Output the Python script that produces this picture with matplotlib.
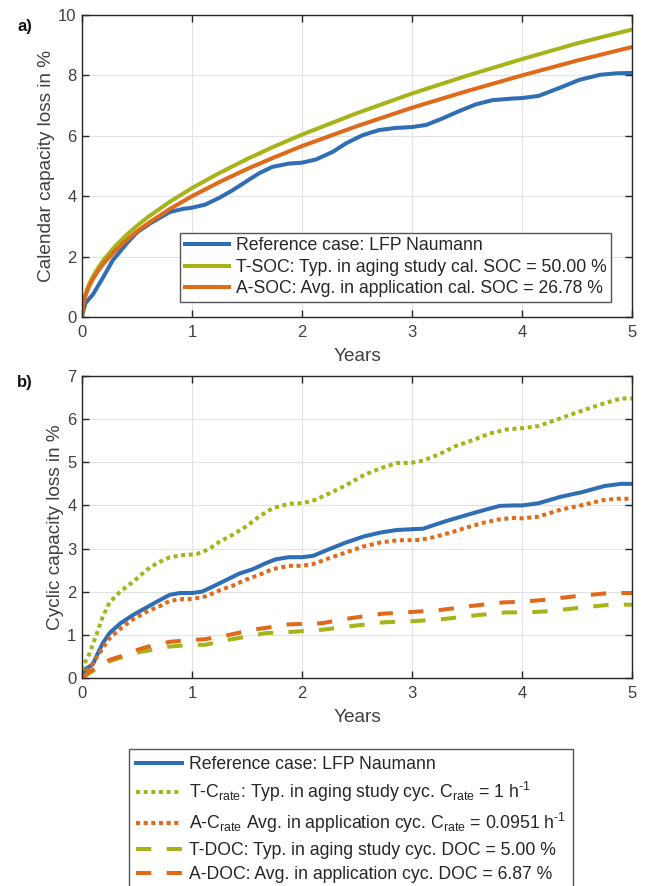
import matplotlib
matplotlib.use("Agg")
import matplotlib.pyplot as plt

# ------------------------------------------------------------
# data (years, capacity loss in %)
# ------------------------------------------------------------
# a) calendar aging
cal_ref_x = [0, 0.03, 0.1, 0.19, 0.28, 0.41, 0.5, 0.62, 0.8, 0.92, 1.0, 1.12, 1.25, 1.37,
             1.49, 1.61, 1.73, 1.88, 2.0, 2.13, 2.28, 2.4, 2.55, 2.7, 2.85, 3.0, 3.13,
             3.28, 3.43, 3.58, 3.73, 3.9, 4.0, 4.15, 4.33, 4.52, 4.71, 4.86, 5.0]
cal_ref_y = [0, 0.45, 0.75, 1.3, 1.88, 2.45, 2.8, 3.1, 3.48, 3.58, 3.62, 3.72, 3.95, 4.2,
             4.48, 4.76, 4.97, 5.08, 5.11, 5.22, 5.47, 5.75, 6.02, 6.19, 6.26, 6.29, 6.36,
             6.58, 6.82, 7.04, 7.18, 7.23, 7.25, 7.32, 7.57, 7.85, 8.02, 8.07, 8.08]

cal_soc_x = [0, 0.01, 0.03, 0.06, 0.1, 0.15, 0.2, 0.3, 0.4, 0.5, 0.6, 0.8, 1.0, 1.25,
             1.5, 1.75, 2.0, 2.5, 3.0, 3.5, 4.0, 4.5, 5.0]
cal_tsoc_y = [0, 0.43, 0.74, 1.05, 1.35, 1.65, 1.91, 2.34, 2.70, 3.02, 3.31, 3.82, 4.27,
              4.77, 5.23, 5.65, 6.04, 6.75, 7.40, 7.99, 8.54, 9.06, 9.52]
cal_asoc_y = [0, 0.40, 0.69, 0.98, 1.26, 1.55, 1.79, 2.19, 2.53, 2.83, 3.10, 3.58, 4.00,
              4.47, 4.90, 5.29, 5.66, 6.32, 6.93, 7.48, 8.00, 8.49, 8.94]

# b) cyclic aging
cyc_ref_x = [0, 0.04, 0.1, 0.13, 0.19, 0.25, 0.35, 0.47, 0.59, 0.71, 0.8, 0.89, 1.0, 1.09,
             1.19, 1.31, 1.43, 1.55, 1.67, 1.76, 1.88, 2.0, 2.1, 2.25, 2.4, 2.56, 2.71,
             2.86, 3.01, 3.1, 3.3, 3.5, 3.68, 3.8, 3.93, 4.0, 4.15, 4.35, 4.55, 4.75, 4.9, 5.0]
cyc_ref_y = [0.05, 0.22, 0.32, 0.5, 0.81, 1.04, 1.27, 1.47, 1.64, 1.81, 1.93, 1.97, 1.97, 2.0,
             2.12, 2.27, 2.42, 2.52, 2.66, 2.75, 2.8, 2.8, 2.83, 2.99, 3.14, 3.28, 3.37,
             3.43, 3.45, 3.46, 3.63, 3.78, 3.91, 3.99, 4.0, 4.0, 4.05, 4.2, 4.31, 4.45, 4.5, 4.5]

cyc_tcr_x = [0, 0.01, 0.07, 0.13, 0.19, 0.25, 0.35, 0.47, 0.59, 0.68, 0.8, 0.92, 1.04, 1.15,
             1.25, 1.37, 1.49, 1.61, 1.73, 1.88, 2.0, 2.1, 2.25, 2.4, 2.56, 2.71, 2.86,
             3.0, 3.1, 3.25, 3.4, 3.56, 3.71, 3.86, 4.0, 4.15, 4.35, 4.55, 4.75, 4.9, 5.0]
cyc_tcr_y = [0, 0.27, 0.58, 1.0, 1.43, 1.75, 2.01, 2.24, 2.51, 2.66, 2.8, 2.85, 2.87, 2.98,
             3.16, 3.32, 3.51, 3.74, 3.93, 4.04, 4.05, 4.11, 4.28, 4.47, 4.7, 4.86, 4.98,
             4.99, 5.04, 5.19, 5.38, 5.52, 5.67, 5.76, 5.79, 5.84, 6.02, 6.2, 6.37, 6.48, 6.48]

cyc_acr_x = [0, 0.1, 0.19, 0.25, 0.35, 0.47, 0.59, 0.71, 0.8, 0.92, 1.0, 1.12, 1.25, 1.37,
             1.49, 1.61, 1.73, 1.88, 2.0, 2.1, 2.25, 2.4, 2.56, 2.71, 2.86, 3.07, 3.19,
             3.35, 3.5, 3.65, 3.8, 3.93, 4.0, 4.15, 4.35, 4.55, 4.75, 4.9, 5.0]
cyc_acr_y = [0, 0.35, 0.7, 0.92, 1.15, 1.37, 1.54, 1.67, 1.79, 1.83, 1.83, 1.89, 2.03, 2.14,
             2.28, 2.39, 2.52, 2.6, 2.6, 2.64, 2.78, 2.91, 3.05, 3.14, 3.19, 3.2, 3.26,
             3.37, 3.49, 3.6, 3.68, 3.71, 3.7, 3.74, 3.9, 4.01, 4.13, 4.16, 4.15]

cyc_adoc_x = [0, 0.07, 0.25, 0.35, 0.5, 0.59, 0.8, 1.0, 1.12, 1.34, 1.55, 1.67, 1.85, 2.18,
              2.45, 2.73, 3.0, 3.27, 3.54, 3.82, 4.0, 4.2, 4.5, 4.8, 5.0]
cyc_adoc_y = [0, 0.15, 0.42, 0.5, 0.65, 0.72, 0.84, 0.88, 0.9, 1.0, 1.12, 1.16, 1.24, 1.27,
              1.39, 1.49, 1.53, 1.58, 1.67, 1.75, 1.77, 1.81, 1.9, 1.97, 1.97]

cyc_tdoc_x = [0, 0.07, 0.25, 0.5, 0.59, 0.8, 1.0, 1.12, 1.34, 1.55, 1.67, 1.85, 2.19, 2.47,
              2.74, 3.03, 3.3, 3.57, 3.85, 4.0, 4.2, 4.5, 4.8, 5.0]
cyc_tdoc_y = [0, 0.12, 0.39, 0.59, 0.63, 0.73, 0.77, 0.77, 0.89, 0.98, 1.04, 1.06, 1.12, 1.21,
              1.29, 1.32, 1.37, 1.45, 1.52, 1.52, 1.54, 1.62, 1.7, 1.7]

cal_labels = ["Reference case: LFP Naumann",
              "T-SOC: Typ. in aging study cal. SOC = 50.00 %",
              "A-SOC: Avg. in application cal. SOC = 26.78 %"]
cyc_labels = ["Reference case: LFP Naumann",
              r"T-C$_{\mathrm{rate}}$: Typ. in aging study cyc. C$_{\mathrm{rate}}$ = 1 h$^{\text{-1}}$",
              r"A-C$_{\mathrm{rate}}$ Avg. in application cyc. C$_{\mathrm{rate}}$ = 0.0951 h$^{\text{-1}}$",
              "T-DOC: Typ. in aging study cyc. DOC = 5.00 %",
              "A-DOC: Avg. in application cyc. DOC = 6.87 %"]

# ------------------------------------------------------------
# style
# ------------------------------------------------------------
plt.rcParams['font.family'] = ['Liberation Sans', 'DejaVu Sans']
plt.rcParams['mathtext.fontset'] = 'custom'
plt.rcParams['mathtext.rm'] = 'Liberation Sans'
plt.rcParams['mathtext.it'] = 'Liberation Sans:italic'
plt.rcParams['mathtext.bf'] = 'Liberation Sans:bold'

BLUE, GREEN, ORANGE = '#2F6EB5', '#A6B41A', '#E0691A'
TXT = '#404040'
LW = 2.9
DOT = (0, (1.0, 0.9))
DASH = (0, (3.8, 3.8))


def style_axes(ax, ymax, ylabel):
    ax.set_xlim(0, 5)
    ax.set_ylim(0, ymax)
    ax.set_xticks(range(6))
    ax.set_yticks(range(0, ymax + 1, 2 if ymax == 10 else 1))
    ax.grid(True, color='#e2e2e2', linewidth=0.8)
    ax.set_axisbelow(True)
    ax.tick_params(direction='in', top=True, right=True, length=5, width=1,
                   colors='#262626', labelcolor=TXT, labelsize=12, pad=4)
    ax.tick_params(axis='x', pad=5.5)
    for s in ax.spines.values():
        s.set_color('#262626')
        s.set_linewidth(1)
    ax.set_xlabel('Years', fontsize=13.7, color=TXT, labelpad=6)
    ax.set_ylabel(ylabel, fontsize=13.7, color=TXT, labelpad=2)


fig = plt.figure(figsize=(6.48, 8.86), dpi=100)
ax1 = fig.add_axes([82 / 648, 1 - 317 / 886, 550 / 648, 302 / 886])
ax2 = fig.add_axes([82 / 648, 1 - 678 / 886, 550 / 648, 302 / 886])

# a) calendar
ax1.plot(cal_ref_x, cal_ref_y, color=BLUE, lw=LW, label=cal_labels[0])
ax1.plot(cal_soc_x, cal_tsoc_y, color=GREEN, lw=LW, label=cal_labels[1])
ax1.plot(cal_soc_x, cal_asoc_y, color=ORANGE, lw=LW, label=cal_labels[2])
style_axes(ax1, 10, 'Calendar capacity loss in %')
leg1 = ax1.legend(loc='lower right', bbox_to_anchor=(0.962, 0.05), fontsize=12.7,
                  frameon=True, fancybox=False, framealpha=1, edgecolor='#555555',
                  handlelength=2.5, handletextpad=0.4, borderpad=0.25, labelspacing=0.27,
                  borderaxespad=0)
leg1.get_frame().set_linewidth(1)
for t in leg1.get_texts():
    t.set_color('#262626')

# b) cyclic
ax2.plot(cyc_ref_x, cyc_ref_y, color=BLUE, lw=LW, label=cyc_labels[0])
ax2.plot(cyc_tcr_x, cyc_tcr_y, color=GREEN, lw=LW, ls=DOT, dash_capstyle='butt', label=cyc_labels[1])
ax2.plot(cyc_acr_x, cyc_acr_y, color=ORANGE, lw=LW, ls=DOT, dash_capstyle='butt', label=cyc_labels[2])
ax2.plot(cyc_tdoc_x, cyc_tdoc_y, color=GREEN, lw=LW, ls=DASH, dash_capstyle='butt', label=cyc_labels[3])
ax2.plot(cyc_adoc_x, cyc_adoc_y, color=ORANGE, lw=LW, ls=DASH, dash_capstyle='butt', label=cyc_labels[4])
style_axes(ax2, 7, 'Cyclic capacity loss in %')

h, l = ax2.get_legend_handles_labels()
leg2 = fig.legend(h, l, loc='upper left', bbox_to_anchor=(129 / 648, 1 - 749 / 886),
                  bbox_transform=fig.transFigure, fontsize=12.7, frameon=True,
                  fancybox=False, framealpha=1, edgecolor='#555555', handlelength=2.6,
                  handletextpad=0.4, borderpad=0.4, labelspacing=0.4, borderaxespad=0)
leg2.get_frame().set_linewidth(1)
for t in leg2.get_texts():
    t.set_color('#262626')

fig.text(17 / 648, 1 - 27 / 886, 'a)', fontsize=12, fontweight='bold', va='center', color='#111111')
fig.text(17 / 648, 1 - 383 / 886, 'b)', fontsize=12, fontweight='bold', va='center', color='#111111')

fig.savefig('out.png', dpi=100)
